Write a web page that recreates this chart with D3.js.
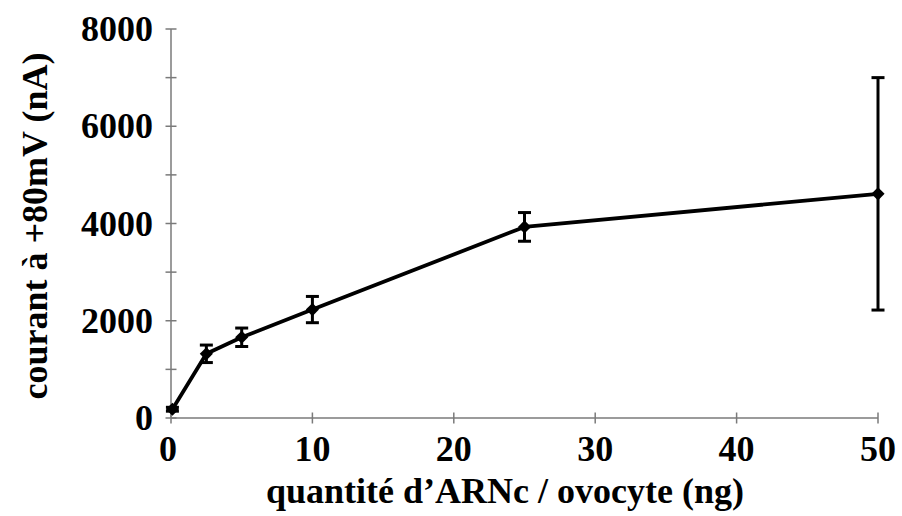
<!DOCTYPE html>
<html>
<head>
<meta charset="utf-8">
<script src="https://cdn.jsdelivr.net/npm/d3@7"></script>
<style>
  html, body { margin: 0; padding: 0; background: #fff; }
  svg { display: block; }
  text { font-family: "Liberation Serif", "Times New Roman", Times, serif; font-weight: bold; fill: #000; }
</style>
</head>
<body>
<svg id="chart" width="902" height="516"></svg>
<script>
// Data
const quantities = [0.1, 2.5, 5, 10, 25, 50];           // ng ARNc / ovocyte
const currents   = [180, 1320, 1660, 2230, 3930, 4610];  // nA at +80mV
const errors     = [40, 180, 190, 270, 295, 2390];       // error bar half-length
const xTicks = [0, 10, 20, 30, 40, 50];
const yTicks = [0, 1000, 2000, 3000, 4000, 5000, 6000, 7000, 8000];
const yLabelTicks = [0, 2000, 4000, 6000, 8000];
const xTitle = "quantité d\u2019ARNc / ovocyte (ng)";
const yTitle = "courant à +80mV (nA)";

const svg = d3.select("#chart");
const x = d3.scaleLinear().domain([0, 50]).range([171, 878]);
const y = d3.scaleLinear().domain([0, 8000]).range([418, 29]);

const axisColor = "#7a7a7a";

// X axis
const xAxis = svg.append("g").attr("transform", `translate(0,${y(0)})`);
xAxis.append("line").attr("x1", x(0)).attr("x2", x(50)).attr("stroke", axisColor).attr("stroke-width", 1.5);
xAxis.selectAll("line.tick").data(xTicks).enter().append("line")
  .attr("class", "tick")
  .attr("x1", d => x(d)).attr("x2", d => x(d))
  .attr("y1", -5.5).attr("y2", 5.5)
  .attr("stroke", axisColor).attr("stroke-width", 1.5);
xAxis.selectAll("text").data(xTicks).enter().append("text")
  .attr("x", d => x(d) - (d === 0 ? 3 : 0)).attr("y", 43)
  .attr("text-anchor", "middle")
  .attr("font-size", 36)
  .text(d => d);

// Y axis
const yAxis = svg.append("g").attr("transform", `translate(${x(0)},0)`);
yAxis.append("line").attr("y1", y(0)).attr("y2", y(8000)).attr("stroke", axisColor).attr("stroke-width", 1.5);
yAxis.selectAll("line.tick").data(yTicks).enter().append("line")
  .attr("class", "tick")
  .attr("y1", d => y(d)).attr("y2", d => y(d))
  .attr("x1", -5.5).attr("x2", 5.5)
  .attr("stroke", axisColor).attr("stroke-width", 1.5);
yAxis.selectAll("text").data(yLabelTicks).enter().append("text")
  .attr("x", -18).attr("y", d => y(d) + 12)
  .attr("text-anchor", "end")
  .attr("font-size", 36)
  .text(d => d);

// Titles
svg.append("text")
  .attr("x", 505).attr("y", 503)
  .attr("text-anchor", "middle")
  .attr("font-size", 36)
  .text(xTitle);
svg.append("text")
  .attr("transform", "translate(47,226) rotate(-90)")
  .attr("text-anchor", "middle")
  .attr("font-size", 36)
  .text(yTitle);

// Error bars
const pts = quantities.map((q, i) => ({ q, v: currents[i], e: errors[i] }));
const eb = svg.append("g");
eb.selectAll("line.v").data(pts).enter().append("line")
  .attr("x1", d => x(d.q)).attr("x2", d => x(d.q))
  .attr("y1", d => y(d.v - d.e)).attr("y2", d => y(d.v + d.e))
  .attr("stroke", "#000").attr("stroke-width", 3);
["lo", "hi"].forEach(k => {
  eb.selectAll("line." + k).data(pts).enter().append("line")
    .attr("x1", d => x(d.q) - 6.5).attr("x2", d => x(d.q) + 6.5)
    .attr("y1", d => y(k === "lo" ? d.v - d.e : d.v + d.e))
    .attr("y2", d => y(k === "lo" ? d.v - d.e : d.v + d.e))
    .attr("stroke", "#000").attr("stroke-width", 3);
});

// Line
const line = d3.line().x(d => x(d.q)).y(d => y(d.v));
svg.append("path").datum(pts)
  .attr("d", line)
  .attr("fill", "none").attr("stroke", "#000").attr("stroke-width", 3.8)
  .attr("stroke-linejoin", "round");

// Diamond markers
const diamond = d3.symbol().type(d3.symbolDiamond2).size(110);
svg.selectAll("path.marker").data(pts).enter().append("path")
  .attr("class", "marker")
  .attr("d", diamond)
  .attr("transform", d => `translate(${x(d.q)},${y(d.v)})`)
  .attr("fill", "#000");
</script>
</body>
</html>
